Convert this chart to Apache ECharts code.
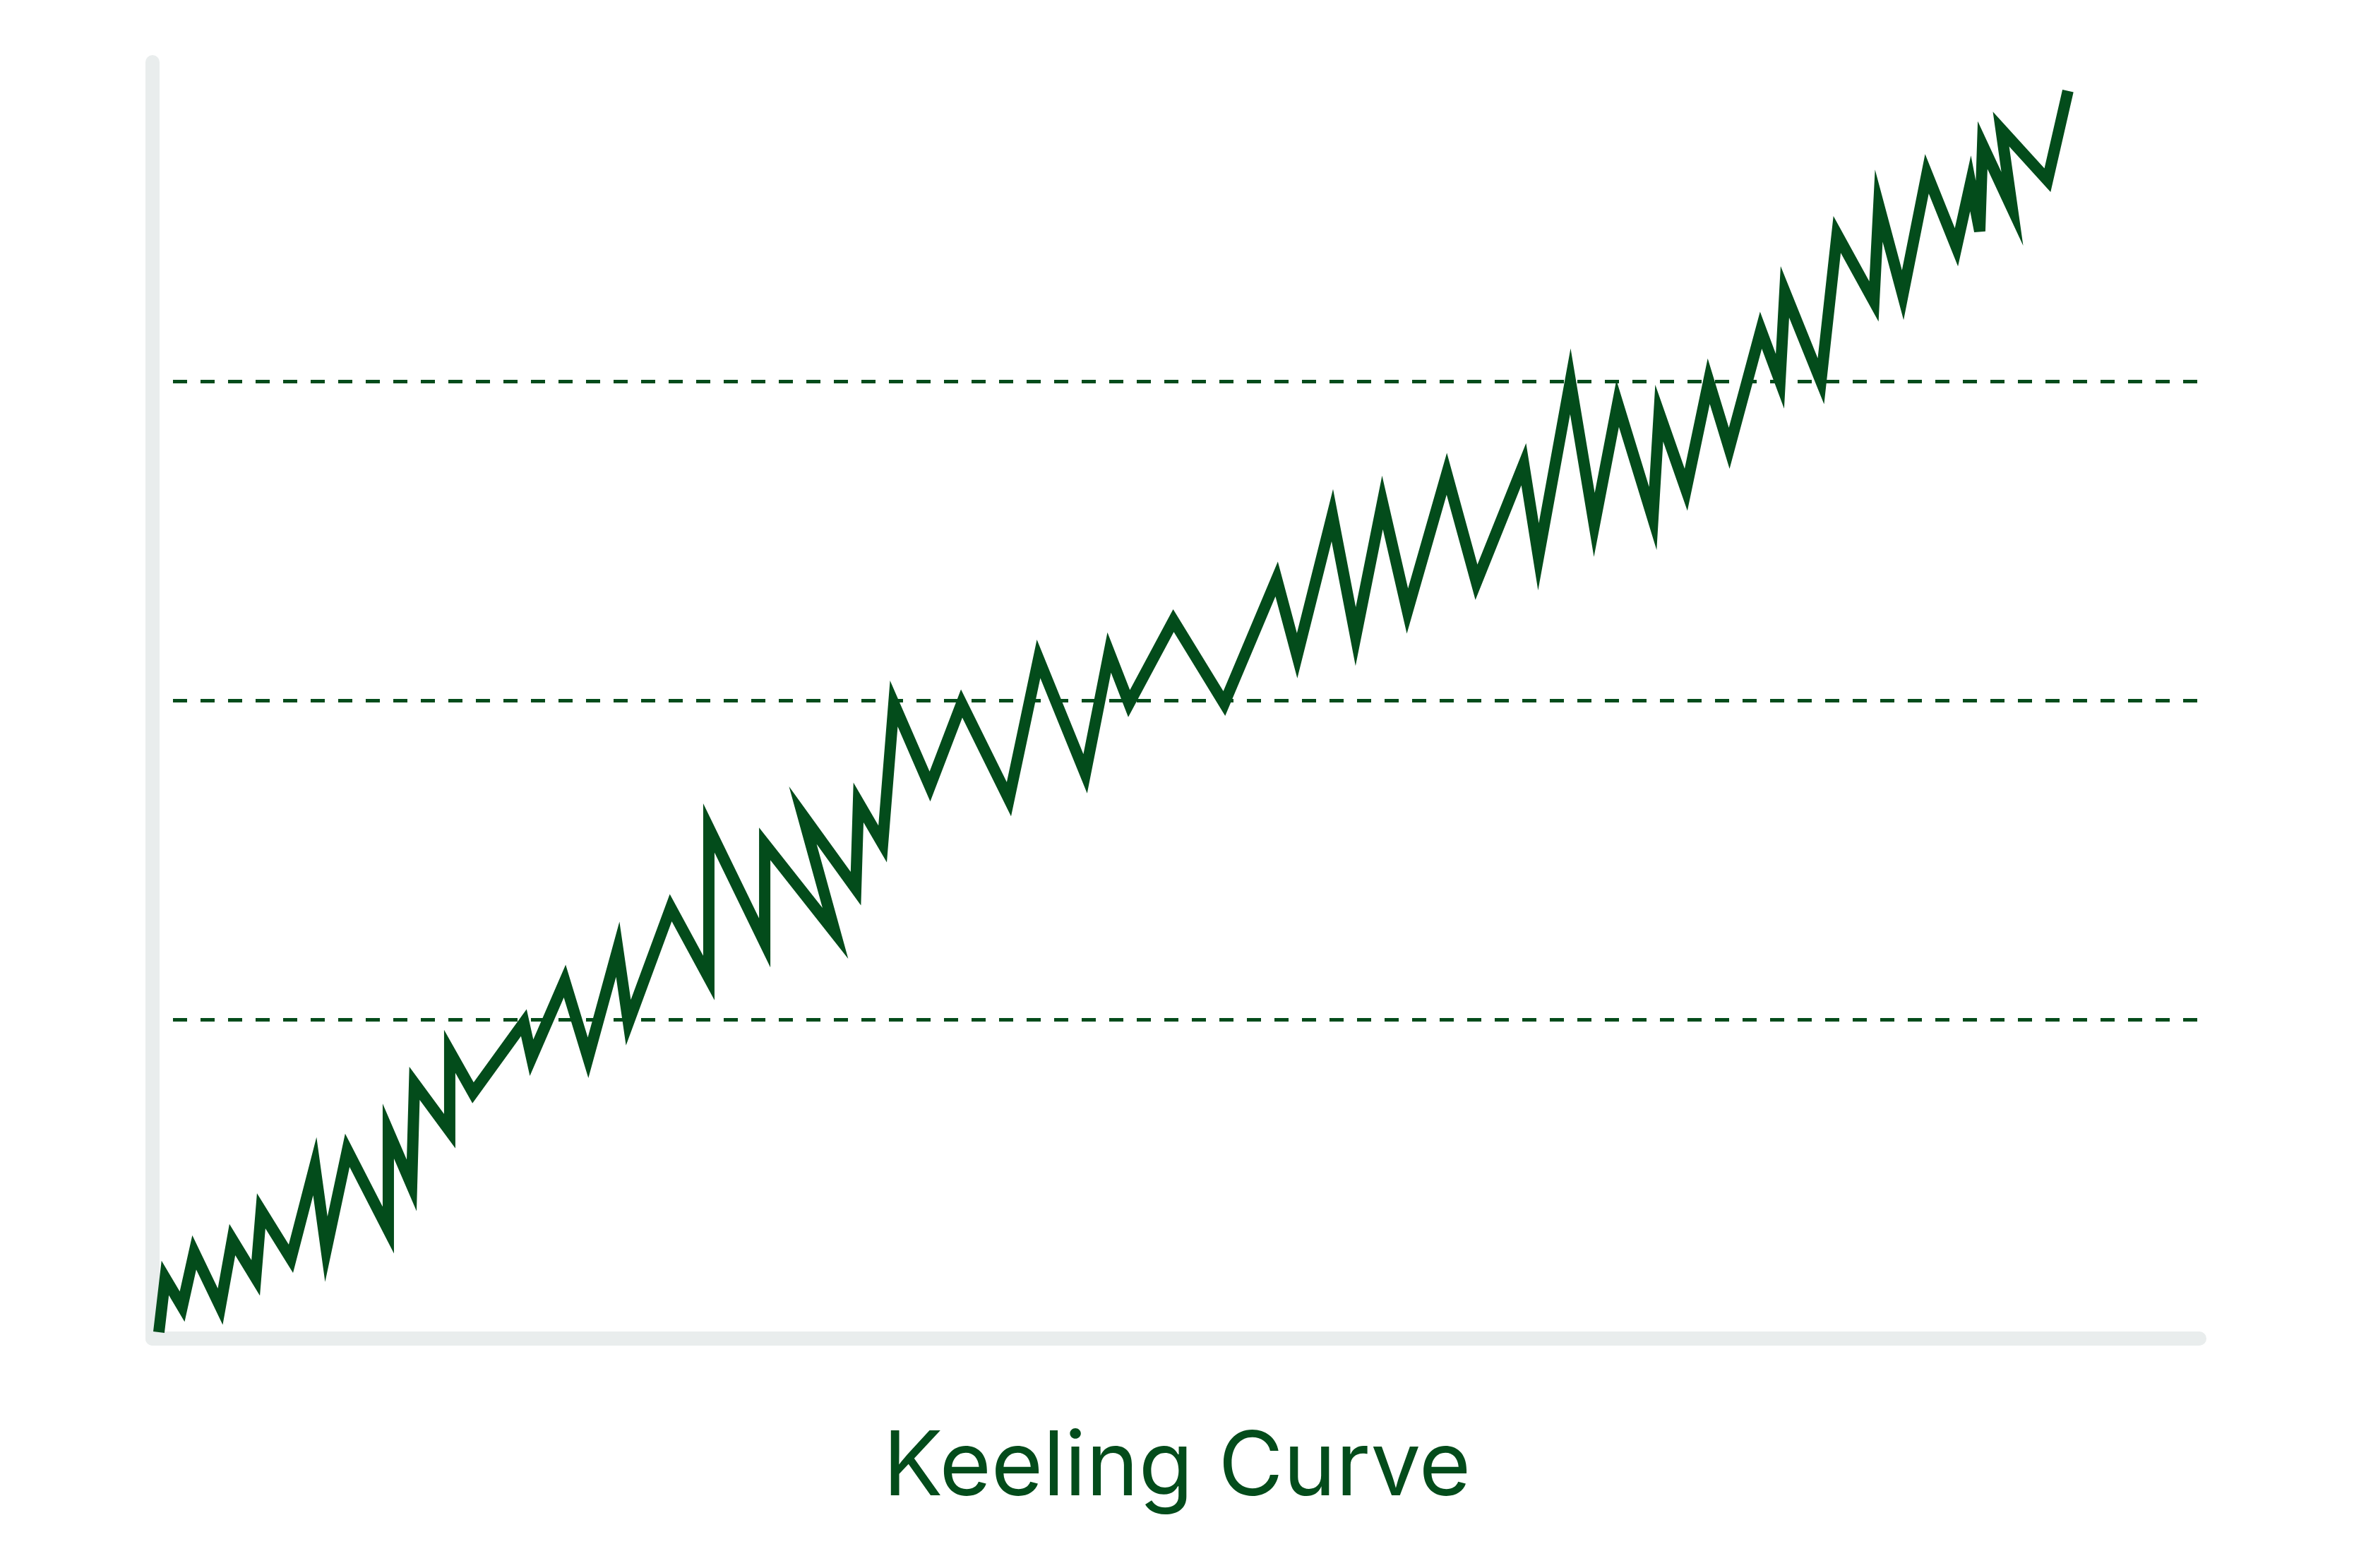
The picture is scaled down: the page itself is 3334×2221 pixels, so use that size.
<!DOCTYPE html>
<html>
<head>
<meta charset="utf-8">
<script src="https://cdn.jsdelivr.net/npm/echarts@6/dist/echarts.min.js"></script>
<style>
  html, body { margin: 0; padding: 0; background: #fff; }
  #chart { width: 3334px; height: 2221px; }
</style>
</head>
<body>
<div id="chart"></div>
<script>
var chart = echarts.init(document.getElementById('chart'));

// x position of every vertex of the curve (axis runs 0..100)
var xs = [0.31, 0.62, 1.45, 2.04, 3.31, 3.90, 5.04, 5.31, 6.76, 7.93,
          8.49, 9.52, 11.52, 11.52, 12.66, 12.80, 14.52, 14.52, 15.66, 18.14,
          18.52, 20.14, 21.28, 22.73, 23.25, 25.32, 27.18, 27.18, 29.91, 29.91,
          33.36, 31.77, 34.36, 34.49, 35.67, 36.22, 37.98, 39.53, 41.84, 43.29,
          45.57, 46.74, 47.71, 49.88, 52.36, 54.92, 55.92, 57.64, 58.78, 60.09,
          61.31, 63.23, 64.68, 66.99, 67.71, 69.27, 70.44, 71.58, 73.30, 73.61,
          74.92, 76.03, 77.03, 78.58, 79.51, 79.75, 81.51, 82.30, 84.10, 84.34,
          85.51, 86.69, 88.13, 88.82, 89.27, 89.41, 90.86, 90.31, 92.58, 93.58];
// y value of every vertex (axis runs 0..4)
var ys = [0.02, 0.19, 0.10, 0.27, 0.10, 0.31, 0.19, 0.40, 0.25, 0.54,
          0.28, 0.59, 0.34, 0.65, 0.48, 0.80, 0.65, 0.90, 0.77, 0.99,
          0.88, 1.12, 0.88, 1.22, 0.99, 1.35, 1.13, 1.60, 1.24, 1.55,
          1.27, 1.64, 1.41, 1.68, 1.55, 1.99, 1.73, 1.99, 1.69, 2.13,
          1.77, 2.15, 1.99, 2.25, 1.99, 2.38, 2.14, 2.58, 2.20, 2.62,
          2.28, 2.71, 2.37, 2.74, 2.45, 3.00, 2.55, 2.93, 2.57, 2.90,
          2.66, 3.00, 2.79, 3.16, 3.00, 3.28, 3.00, 3.46, 3.25, 3.55,
          3.27, 3.65, 3.42, 3.62, 3.47, 3.74, 3.54, 3.79, 3.63, 3.91];
var gridValues = [1, 2, 3];
var title = 'Keeling Curve';

var green = '#034c1b';
var axisGray = '#e9eded';

var points = [];
for (var i = 0; i < xs.length; i++) {
    points.push([xs[i], ys[i]]);
}

var dashed = gridValues.map(function (v) {
    return [{ coord: [1, v] }, { coord: [100, v] }];
});

var option = {
    animation: false,
    backgroundColor: '#ffffff',
    title: {
        text: title,
        left: 'center',
        top: 2012,
        textStyle: {
            fontFamily: 'Inter',
            fontWeight: 'normal',
            fontSize: 126,
            color: green
        }
    },
    grid: {
        left: 216,
        right: 219,
        top: 88,
        bottom: 325
    },
    xAxis: {
        type: 'value',
        min: 0,
        max: 100,
        axisLine: { show: true, lineStyle: { color: axisGray, width: 20, cap: 'round' } },
        axisTick: { show: false },
        axisLabel: { show: false },
        splitLine: { show: false }
    },
    yAxis: {
        type: 'value',
        min: 0,
        max: 4,
        interval: 1,
        axisLine: { show: true, lineStyle: { color: axisGray, width: 20, cap: 'round' } },
        axisTick: { show: false },
        axisLabel: { show: false },
        splitLine: { show: false }
    },
    series: [
        {
            type: 'line',
            data: points,
            showSymbol: false,
            symbol: 'none',
            lineStyle: {
                color: green,
                width: 16,
                join: 'miter',
                miterLimit: 8
            },
            markLine: {
                silent: true,
                symbol: 'none',
                label: { show: false },
                lineStyle: {
                    color: green,
                    width: 5,
                    type: [20, 19]
                },
                data: dashed
            }
        }
    ]
};

option && chart.setOption(option);
</script>
</body>
</html>
